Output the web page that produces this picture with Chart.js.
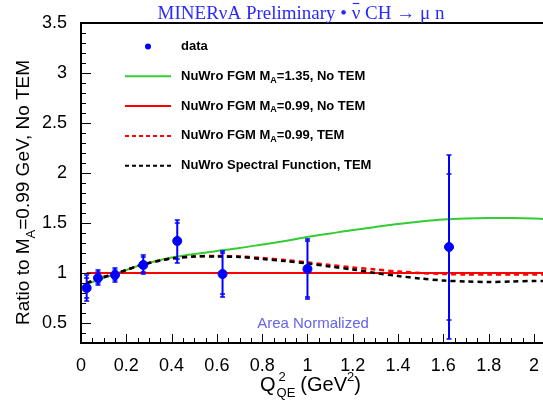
<!DOCTYPE html>
<html>
<head>
<meta charset="utf-8">
<script src="https://cdn.jsdelivr.net/npm/chart.js@4"></script>
<style>
  html, body { margin: 0; padding: 0; background: #fff; }
  #wrap { width: 543px; height: 402px; }
</style>
</head>
<body>
<div id="wrap"><canvas id="c" width="543" height="402"></canvas></div>
<script>
// data points (bin centers, ratio, stat and total error limits)
const dataX = [0.025, 0.075, 0.15, 0.275, 0.425, 0.625, 1.0, 1.625];
const dataY = [0.85, 0.95, 0.98, 1.08, 1.32, 0.99, 1.04, 1.26];
const totLow = [0.72, 0.88, 0.91, 0.99, 1.10, 0.76, 0.74, 0.34];
const totHigh = [0.98, 1.03, 1.05, 1.18, 1.53, 1.22, 1.34, 2.18];
const statLow = [0.75, 0.90, 0.93, 1.01, 1.14, 0.79, 0.76, 0.53];
const statHigh = [0.95, 1.01, 1.03, 1.16, 1.50, 1.20, 1.32, 1.99];

// model curves
const curveX = [0.025, 0.05, 0.1, 0.15, 0.2, 0.25, 0.3, 0.35, 0.4, 0.5, 0.6, 0.7, 0.8, 0.9, 1.0,
                1.1, 1.2, 1.3, 1.4, 1.5, 1.6, 1.7, 1.8, 1.9, 2.0, 2.04];
const ma135 = [0.89, 0.91, 0.95, 0.99, 1.03, 1.07, 1.10, 1.13, 1.155, 1.19, 1.22, 1.25, 1.285, 1.32, 1.36,
               1.395, 1.43, 1.46, 1.49, 1.515, 1.535, 1.545, 1.55, 1.55, 1.545, 1.54];
const ma099 = [1, 1, 1, 1, 1, 1, 1, 1, 1, 1, 1, 1, 1, 1, 1,
               1, 1, 1, 1, 1, 1, 1, 1, 1, 1, 1];
const ma099tem = [0.90, 0.92, 0.96, 0.99, 1.03, 1.07, 1.10, 1.125, 1.145, 1.165, 1.17, 1.165, 1.15, 1.13, 1.105,
                  1.08, 1.055, 1.035, 1.015, 1.0, 0.99, 0.985, 0.985, 0.985, 0.985, 0.985];
const sfTem = [0.90, 0.92, 0.96, 0.99, 1.03, 1.07, 1.10, 1.125, 1.145, 1.165, 1.165, 1.16, 1.14, 1.12, 1.095,
               1.065, 1.035, 1.0, 0.97, 0.945, 0.925, 0.915, 0.91, 0.915, 0.92, 0.92];

const xTicks = [0, 0.2, 0.4, 0.6, 0.8, 1, 1.2, 1.4, 1.6, 1.8, 2];
const yTicks = [0.5, 1, 1.5, 2, 2.5, 3, 3.5];

const legendRows = [
  {type: 'point', color: '#0000ff', parts: ['data']},
  {type: 'line', color: '#33cc33', dash: [], parts: ['NuWro FGM M', 'A', '=1.35, No TEM']},
  {type: 'line', color: '#ff0000', dash: [], parts: ['NuWro FGM M', 'A', '=0.99, No TEM']},
  {type: 'line', color: '#ff0000', dash: [4, 3], parts: ['NuWro FGM M', 'A', '=0.99, TEM']},
  {type: 'line', color: '#000000', dash: [4, 3], parts: ['NuWro Spectral Function, TEM']}
];

function pts(xs, ys) {
  return xs.map((x, i) => ({x: x, y: ys[i]}));
}

function drawParts(ctx, parts, x, y, size, font) {
  // parts: normal, subscript, normal ...
  parts.forEach((p, i) => {
    const sub = i % 2 === 1;
    ctx.font = font + ' ' + (sub ? Math.round(size * 0.7) : size) + 'px "Liberation Sans", Arial, sans-serif';
    ctx.fillText(p, x, y + (sub ? size * 0.3 : 0));
    x += ctx.measureText(p).width;
  });
}

const rootStyle = {
  id: 'rootStyle',
  afterDatasetsDraw(chart) {
    const ctx = chart.ctx, xs = chart.scales.x, ys = chart.scales.y;
    ctx.save();
    ctx.strokeStyle = '#0000ff';
    dataX.forEach((x, i) => {
      const px = xs.getPixelForValue(x);
      ctx.lineWidth = 2;
      ctx.beginPath();
      ctx.moveTo(px, ys.getPixelForValue(totLow[i]));
      ctx.lineTo(px, ys.getPixelForValue(totHigh[i]));
      ctx.stroke();
      ctx.lineWidth = 1.5;
      [totLow[i], totHigh[i], statLow[i], statHigh[i]].forEach(v => {
        const py = ys.getPixelForValue(v);
        ctx.beginPath();
        ctx.moveTo(px - 2.5, py);
        ctx.lineTo(px + 2.5, py);
        ctx.stroke();
      });
    });
    ctx.restore();
  },
  afterDraw(chart) {
    const ctx = chart.ctx, a = chart.chartArea, xs = chart.scales.x, ys = chart.scales.y;
    ctx.save();
    // frame
    ctx.strokeStyle = '#000';
    ctx.lineWidth = 2;
    ctx.beginPath();
    ctx.moveTo(a.right + 2, a.top);
    ctx.lineTo(a.left, a.top);
    ctx.lineTo(a.left, a.bottom);
    ctx.lineTo(a.right + 2, a.bottom);
    ctx.stroke();
    // ticks
    ctx.lineWidth = 1;
    for (let k = 3; k <= 35; k++) {
      const py = Math.round(ys.getPixelForValue(k / 10)) + 0.5;
      const len = k % 5 === 0 ? 10 : 5;
      ctx.beginPath();
      ctx.moveTo(a.left, py);
      ctx.lineTo(a.left + len, py);
      ctx.stroke();
    }
    for (let k = 1; k <= 40; k++) {
      const px = Math.round(xs.getPixelForValue(k * 0.05)) + 0.5;
      const len = k % 4 === 0 ? 9 : 5;
      ctx.beginPath();
      ctx.moveTo(px, a.bottom);
      ctx.lineTo(px, a.bottom - len);
      ctx.stroke();
    }
    // legend
    legendRows.forEach((r, i) => {
      const y = 46.5 + i * 29.8;
      ctx.strokeStyle = r.color;
      ctx.fillStyle = r.color;
      if (r.type === 'point') {
        ctx.beginPath();
        ctx.arc(148, y, 3, 0, Math.PI * 2);
        ctx.fill();
      } else {
        ctx.lineWidth = 2;
        ctx.setLineDash(r.dash);
        ctx.beginPath();
        ctx.moveTo(125, y);
        ctx.lineTo(171, y);
        ctx.stroke();
        ctx.setLineDash([]);
      }
      ctx.fillStyle = '#000';
      ctx.textBaseline = 'middle';
      drawParts(ctx, r.parts, 181, y, 13, 'bold');
    });
    // title, with a bar drawn over the second nu
    ctx.textBaseline = 'alphabetic';
    ctx.fillStyle = '#2a2aff';
    ctx.strokeStyle = '#2a2aff';
    ctx.font = '19px "Liberation Serif", "Times New Roman", serif';
    ctx.textAlign = 'left';
    const t1 = 'MINERνA Preliminary \u2022 ', t2 = 'ν', t3 = ' CH \u2192 μ n';
    const w1 = ctx.measureText(t1).width, w2 = ctx.measureText(t2).width, w3 = ctx.measureText(t3).width;
    let tx = 301 - (w1 + w2 + w3) / 2;
    ctx.fillText(t1, tx, 19);
    ctx.fillText(t2, tx + w1, 19);
    ctx.lineWidth = 1.2;
    ctx.beginPath();
    ctx.moveTo(tx + w1 + 1, 3.5);
    ctx.lineTo(tx + w1 + w2 - 1, 3.5);
    ctx.stroke();
    ctx.fillText(t3, tx + w1 + w2, 19);
    // area normalized
    ctx.textAlign = 'center';
    ctx.fillStyle = '#6464e6';
    ctx.font = '15px "Liberation Sans", Arial, sans-serif';
    ctx.fillText('Area Normalized', 313, 328);
    // x title
    ctx.fillStyle = '#000';
    ctx.textAlign = 'left';
    ctx.font = '20px "Liberation Sans", Arial, sans-serif';
    let x0 = 260;
    ctx.fillText('Q', x0, 391);
    x0 += ctx.measureText('Q').width + 1;
    ctx.font = '13px "Liberation Sans", Arial, sans-serif';
    ctx.fillText('2', x0 + 2, 381);
    ctx.fillText('QE', x0, 397);
    x0 += ctx.measureText('QE').width + 5;
    ctx.font = '20px "Liberation Sans", Arial, sans-serif';
    ctx.fillText('(GeV', x0, 391);
    x0 += ctx.measureText('(GeV').width;
    ctx.font = '13px "Liberation Sans", Arial, sans-serif';
    ctx.fillText('2', x0, 381);
    x0 += ctx.measureText('2').width;
    ctx.font = '20px "Liberation Sans", Arial, sans-serif';
    ctx.fillText(')', x0, 391);
    // y title
    ctx.translate(29, 325);
    ctx.rotate(-Math.PI / 2);
    drawParts(ctx, ['Ratio to M', 'A', '=0.99 GeV, No TEM'], 0, 0, 19, '');
    ctx.restore();
  }
};

new Chart(document.getElementById('c'), {
  type: 'scatter',
  data: {
    datasets: [
      {label: 'data', data: pts(dataX, dataY), backgroundColor: '#0000ff', borderColor: '#0000ff',
       pointRadius: 4.5, pointHoverRadius: 4.5, order: 0},
      {label: 'MA 1.35', data: pts(curveX, ma135), showLine: true, borderColor: '#33cc33', borderWidth: 2,
       pointRadius: 0, tension: 0.3, order: 4},
      {label: 'MA 0.99', data: pts(curveX, ma099), showLine: true, borderColor: '#ff0000', borderWidth: 2,
       pointRadius: 0, tension: 0, order: 3},
      {label: 'MA 0.99 TEM', data: pts(curveX, ma099tem), showLine: true, borderColor: '#ff0000', borderWidth: 2.5,
       borderDash: [5, 4], pointRadius: 0, tension: 0.3, order: 2},
      {label: 'SF TEM', data: pts(curveX, sfTem), showLine: true, borderColor: '#000000', borderWidth: 2.5,
       borderDash: [5, 4], pointRadius: 0, tension: 0.3, order: 1}
    ]
  },
  options: {
    responsive: false,
    animation: false,
    layout: {autoPadding: false, padding: {top: 23, right: 0, left: 0, bottom: 0}},
    plugins: {legend: {display: false}, tooltip: {enabled: false}, title: {display: false}},
    scales: {
      x: {
        type: 'linear', min: 0, max: 2.04,
        afterBuildTicks: s => { s.ticks = xTicks.map(v => ({value: v})); },
        afterFit: s => { s.height = 59; s.paddingLeft = 0; s.paddingRight = 0; },
        grid: {display: false}, border: {display: false},
        ticks: {color: '#000', padding: 4, maxRotation: 0, minRotation: 0, autoSkip: false,
                font: {family: '"Liberation Sans", Arial, sans-serif', size: 18},
                callback: v => String(+v.toFixed(2))}
      },
      y: {
        type: 'linear', min: 0.3, max: 3.5,
        afterBuildTicks: s => { s.ticks = yTicks.map(v => ({value: v})); },
        afterFit: s => { s.width = 81; s.paddingTop = 0; s.paddingBottom = 0; },
        grid: {display: false}, border: {display: false},
        ticks: {color: '#000', padding: 6, autoSkip: false,
                font: {family: '"Liberation Sans", Arial, sans-serif', size: 18},
                callback: v => String(+v.toFixed(2))}
      }
    }
  },
  plugins: [rootStyle]
});
</script>
</body>
</html>
